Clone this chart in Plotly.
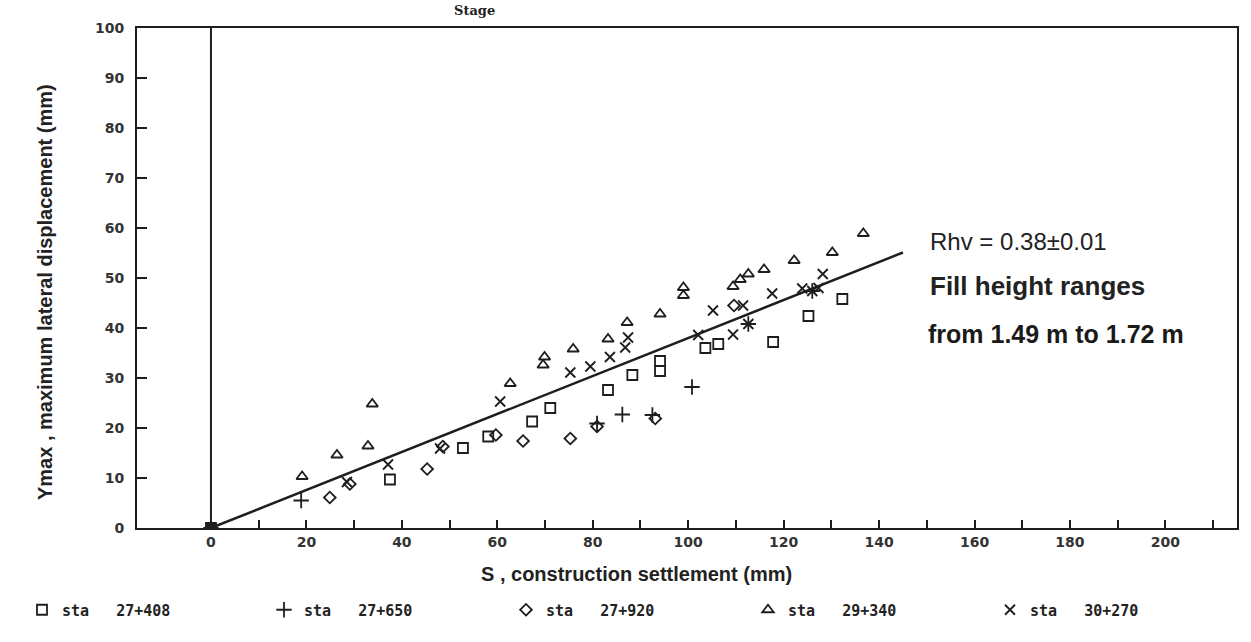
import plotly.graph_objects as go

# ---------------- data ----------------
sq_x = [0, 37.5, 52.8, 58.1, 67.3, 71.1, 83.2, 88.3, 94.1, 94.1, 103.6, 106.3, 117.8, 125.2, 132.3]
sq_y = [0, 9.7, 16.0, 18.3, 21.3, 24.0, 27.6, 30.6, 33.4, 31.4, 36.0, 36.8, 37.2, 42.4, 45.8]

plus_x = [0, 18.9, 80.9, 86.2, 92.5, 100.8, 112.6, 126.0]
plus_y = [0, 5.5, 20.9, 22.7, 22.6, 28.2, 40.8, 47.4]

dia_x = [0, 24.9, 29.1, 45.3, 48.6, 59.7, 65.4, 75.3, 80.9, 93.1, 109.6]
dia_y = [0, 6.1, 8.8, 11.8, 16.3, 18.6, 17.4, 17.9, 20.3, 21.9, 44.5]

tri_x = [0, 19.1, 26.4, 32.9, 33.8, 62.7, 69.6, 69.9, 75.9, 83.2, 87.2, 94.1, 99.0, 99.0,
         109.4, 110.9, 112.6, 115.9, 122.2, 130.2, 136.7]
tri_y = [0, 10.3, 14.6, 16.4, 24.8, 28.9, 32.6, 34.2, 35.8, 37.8, 41.1, 42.8, 48.1, 46.5,
         48.3, 49.7, 50.8, 51.7, 53.5, 55.1, 58.9]

xx_x = [0, 28.5, 37.1, 48.0, 60.6, 75.3, 79.5, 83.6, 86.8, 87.4, 102.1, 105.2, 109.4, 111.5,
        112.6, 117.6, 123.9, 126.0, 127.3, 128.2]
xx_y = [0, 9.2, 12.7, 15.9, 25.3, 31.1, 32.3, 34.2, 36.1, 38.1, 38.6, 43.5, 38.7, 44.5,
        40.8, 46.9, 47.9, 47.4, 48.0, 50.8]

series_names = ["sta   27+408", "sta   27+650", "sta   27+920", "sta   29+340", "sta   30+270"]

fit_slope = 0.38
fit_x = [0, 145]

x_tick_vals = list(range(0, 220, 10))
x_tick_text = [str(v) if v % 20 == 0 and v <= 200 else "" for v in x_tick_vals]
y_tick_vals = list(range(0, 110, 10))
y_tick_text = [str(v) for v in y_tick_vals]

# ---------------- figure ----------------
INK = "#1e1e1e"
fig = go.Figure()

fig.add_trace(go.Scatter(
    x=fit_x, y=[fit_slope * v for v in fit_x], mode="lines",
    line=dict(color=INK, width=2.5), showlegend=False, hoverinfo="skip"))

styles = [
    (sq_x, sq_y, "square-open", 10),
    (plus_x, plus_y, "cross-thin-open", 11),
    (dia_x, dia_y, "diamond-open", 9),
    (tri_x, tri_y, "triangle-up-open", 10),
    (xx_x, xx_y, "x-thin-open", 10),
]
for (xs, ys, sym, sz), name in zip(styles, series_names):
    fig.add_trace(go.Scatter(
        x=xs, y=ys, mode="markers", name=name,
        marker=dict(symbol=sym, size=sz, color=INK, line=dict(color=INK, width=1.8))))

fig.add_shape(type="line", xref="x", yref="y", x0=0, x1=0, y0=0, y1=100,
              line=dict(color=INK, width=2))

tick_font = dict(family="DejaVu Sans", size=14, color="#333333", weight="bold")
fig.update_xaxes(range=[-15.5, 215], tickvals=x_tick_vals, ticktext=x_tick_text,
                 ticks="inside", ticklen=8, tickwidth=1.5, tickcolor=INK,
                 showline=True, mirror=True, linecolor=INK, linewidth=2,
                 showgrid=False, zeroline=False, tickfont=tick_font)
fig.update_yaxes(range=[0, 100], tickvals=y_tick_vals, ticktext=y_tick_text,
                 ticks="inside", ticklen=10, tickwidth=1.5, tickcolor=INK,
                 showline=True, mirror=True, linecolor=INK, linewidth=2,
                 showgrid=False, zeroline=False, tickfont=tick_font,
                 ticklabelstandoff=8)

PL, PR, PT, PB = 137, 1237, 28, 528
W, H = 1251, 642


def px(x):
    return (x - PL) / (PR - PL)


def py(y):
    return (PB - y) / (PB - PT)


ann_font = "Liberation Sans, Arial, sans-serif"
fig.add_annotation(xref="paper", yref="paper", x=px(928), y=py(241), xanchor="left",
                   yanchor="middle", showarrow=False, text="Rhv = 0.38±0.01",
                   font=dict(family=ann_font, size=24, color="#222222"))
fig.add_annotation(xref="paper", yref="paper", x=px(928), y=py(286), xanchor="left",
                   yanchor="middle", showarrow=False, text="<b>Fill height ranges</b>",
                   font=dict(family=ann_font, size=26, color="#222222"))
fig.add_annotation(xref="paper", yref="paper", x=px(926), y=py(334), xanchor="left",
                   yanchor="middle", showarrow=False, text="<b>from 1.49 m to 1.72 m</b>",
                   font=dict(family=ann_font, size=25, color="#1a1a1a"))

# axis titles
fig.add_annotation(xref="paper", yref="paper", x=px(636), y=py(574), xanchor="center",
                   yanchor="middle", showarrow=False, text="<b>S , construction settlement (mm)</b>",
                   font=dict(family=ann_font, size=20, color="#222222"))
fig.add_annotation(xref="paper", yref="paper", x=px(45), y=py(292), xanchor="center",
                   yanchor="middle", showarrow=False, textangle=-90,
                   text="<b>Ymax , maximum lateral displacement (mm)</b>",
                   font=dict(family=ann_font, size=20, color="#222222"))

# heading at the very top of the scan (mostly cropped in the reference)
fig.add_annotation(xref="paper", yref="paper", x=px(452), y=py(1), xanchor="left",
                   yanchor="top", showarrow=False, text="<b>Stage</b>",
                   font=dict(family="DejaVu Serif", size=13, color="#222222"))

fig.update_layout(
    width=W, height=H,
    margin=dict(l=PL, r=W - PR, t=PT, b=H - PB),
    plot_bgcolor="white", paper_bgcolor="white",
    legend=dict(orientation="h", x=px(22), xanchor="left", y=py(610), yanchor="middle",
                entrywidth=197, entrywidthmode="pixels",
                font=dict(family="DejaVu Sans Mono", size=15, color="#222222", weight="bold"),
                bgcolor="rgba(0,0,0,0)"),
)

fig.write_html("out.html")
